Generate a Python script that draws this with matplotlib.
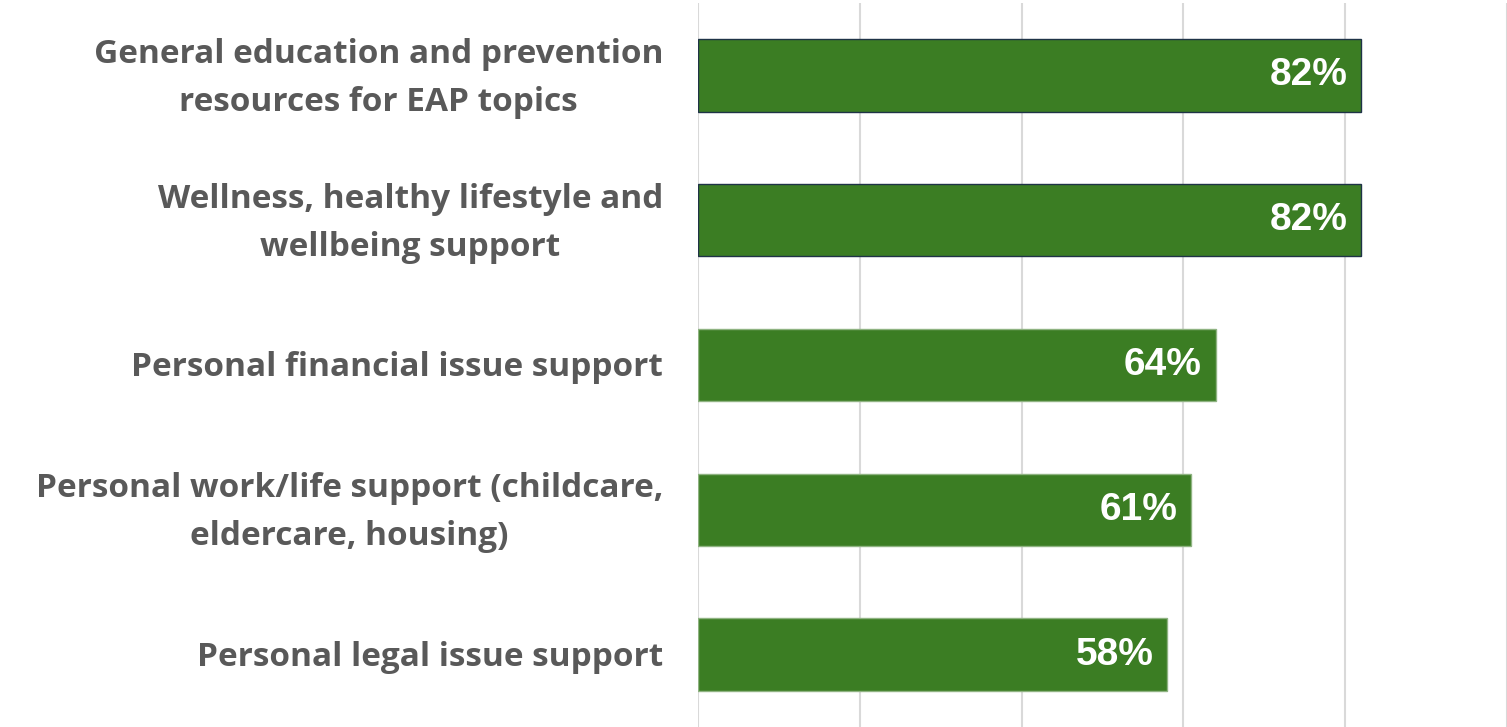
import matplotlib
matplotlib.use("Agg")
import matplotlib.pyplot as plt
from matplotlib.transforms import ScaledTranslation

# Support services offered (share of respondents, %)
categories = [
    "General education and prevention\nresources for EAP topics",
    "Wellness, healthy lifestyle and\nwellbeing support",
    "Personal financial issue support",
    "Personal work/life support (childcare,\neldercare, housing)",
    "Personal legal issue support",
]
values = [82, 82, 64, 61, 58]
value_labels = ["82%", "82%", "64%", "61%", "58%"]

BAR_COLOR = "#3b7d23"
TEXT_COLOR = "#595959"
GRID_COLOR = "#d9d9d9"

plt.rcParams["font.family"] = ["Liberation Sans", "DejaVu Sans"]

fig = plt.figure(figsize=(15.07, 7.27), dpi=100)
ax = fig.add_axes([698 / 1507, 0.0, 1 - 698 / 1507, 1 - 3 / 727])

ypos = list(range(len(categories)))
edges = ["#1f3347", "#1f3347", "#8fb382", "#8fb382", "#8fb382"]
bars = ax.barh(ypos, values, height=0.5, color=BAR_COLOR,
               edgecolor=edges, linewidth=1.0, zorder=3)

for bar, lab in zip(bars, value_labels):
    ax.annotate(lab, xy=(bar.get_width(), bar.get_y() + bar.get_height() / 2),
                xytext=(-10, 0), textcoords="offset points",
                ha="right", va="center", color="white",
                fontsize=28, fontweight="bold", zorder=4)

ax.set_xlim(0, 100)
ax.set_ylim(len(categories) - 0.5, -0.5)
ax.set_xticks([0, 20, 40, 60, 80, 100])
ax.xaxis.grid(True, color=GRID_COLOR, linewidth=1.5, zorder=0)
ax.tick_params(axis="x", length=0, labelbottom=False)
ax.set_yticks(ypos)
ax.set_yticklabels(categories, fontsize=24, fontweight="bold",
                   color=TEXT_COLOR, multialignment="center",
                   linespacing=1.6, va="center",
                   family=["Open Sans", "DejaVu Sans"])
ax.tick_params(axis="y", length=0, pad=25)
nudge = ScaledTranslation(0, -3 / 100, fig.dpi_scale_trans)
for lbl in ax.get_yticklabels():
    lbl.set_transform(lbl.get_transform() + nudge)
for s in ax.spines.values():
    s.set_visible(False)

fig.savefig("out.png", dpi=100)
